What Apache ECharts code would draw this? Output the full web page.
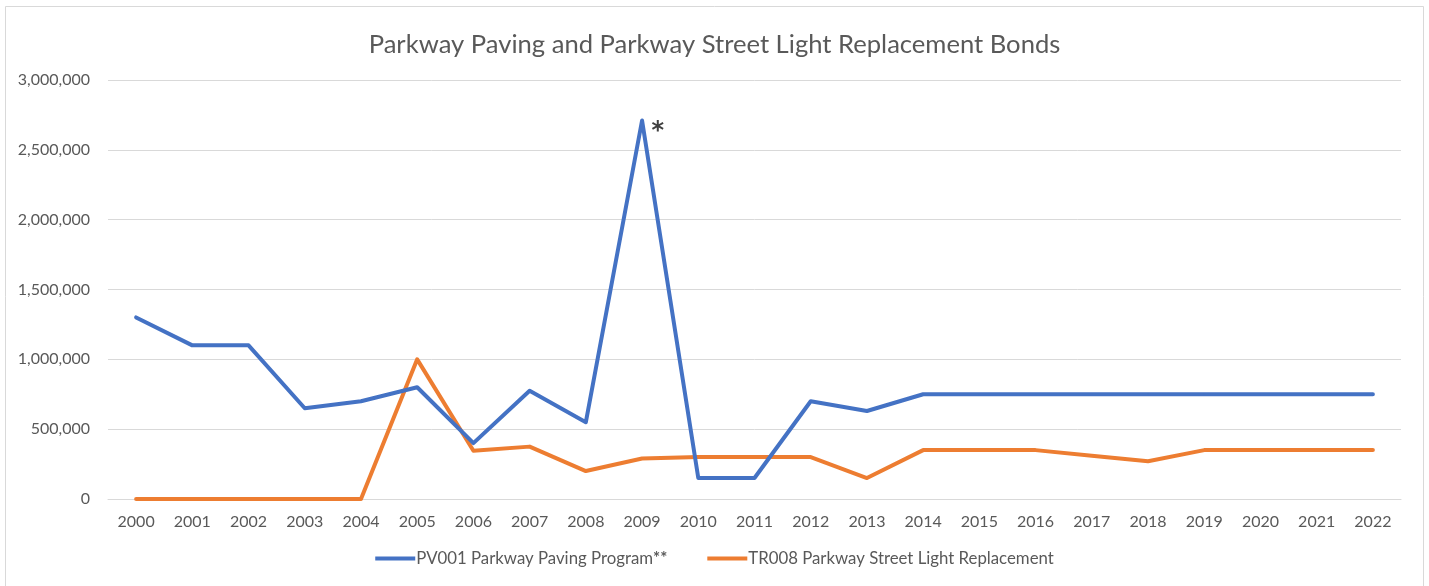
<!DOCTYPE html>
<html>
<head>
<meta charset="utf-8">
<script src="https://cdn.jsdelivr.net/npm/echarts@6/dist/echarts.min.js"></script>
<style>
html,body{margin:0;padding:0;background:#fff;}
#chart{width:1429px;height:586px;}
</style>
</head>
<body>
<div id="chart"></div>
<script>
const categories = ['2000','2001','2002','2003','2004','2005','2006','2007','2008','2009','2010','2011','2012','2013','2014','2015','2016','2017','2018','2019','2020','2021','2022'];
const paving = [1300000,1100000,1100000,650000,700000,800000,400000,775000,550000,2710000,150000,150000,700000,630000,750000,750000,750000,750000,750000,750000,750000,750000,750000];
const lights = [0,0,0,0,0,1000000,345000,375000,200000,290000,300000,300000,300000,150000,350000,350000,350000,310000,270000,350000,350000,350000,350000];
const seriesNames = ['PV001 Parkway Paving Program**','TR008 Parkway Street Light Replacement'];
const titleText = 'Parkway Paving and Parkway Street Light Replacement Bonds';
const peakNote = '*';
const peakIndex = 9;

const font = 'Lato, "Open Sans", sans-serif';
const chart = echarts.init(document.getElementById('chart'));
const pavingData = paving.map((v,i)=> i===peakIndex ? {value:v,label:{show:true,formatter:peakNote,position:'right',offset:[4,11],fontSize:24,fontWeight:'bold',color:'#404040',fontFamily:'"DejaVu Sans", sans-serif'}} : v);
chart.setOption({
  animation:false,
  backgroundColor:'#fff',
  graphic:[{type:'rect',shape:{x:5.5,y:6.5,width:1418,height:620},style:{fill:'none',stroke:'#d9d9d9',lineWidth:1},silent:true}],
  title:{text:titleText,left:'center',top:27,textStyle:{fontFamily:font,fontSize:25.6,fontWeight:'normal',color:'#595959'}},
  grid:{left:108,right:28,top:80,bottom:87,containLabel:false},
  legend:{bottom:14,left:'center',itemWidth:40,itemHeight:4,itemGap:40,icon:'rect',
    formatter:name=>{
      const m = name.match(/^(.*?)(\*+)$/);
      return m ? m[1] + '{b|' + m[2] + '}' : name;
    },
    textStyle:{fontFamily:font,fontSize:16.8,color:'#595959',padding:[0,0,0,-4],
      rich:{b:{fontFamily:font,fontSize:16.8,fontWeight:'bold',color:'#595959'}}},
    data:seriesNames},
  xAxis:{type:'category',data:categories,boundaryGap:true,
    axisLine:{lineStyle:{color:'#d9d9d9',width:1}},axisTick:{show:false},
    axisLabel:{fontFamily:font,fontSize:16,color:'#595959',margin:15}},
  yAxis:{type:'value',min:0,max:3000000,interval:500000,
    axisLine:{show:false},axisTick:{show:false},
    splitLine:{lineStyle:{color:'#d9d9d9',width:1}},
    axisLabel:{fontFamily:font,fontSize:16,color:'#595959',margin:18,
      formatter:v=>v.toLocaleString('en-US')}},
  series:[
    {name:seriesNames[0],type:'line',data:pavingData,symbol:'circle',symbolSize:1,showSymbol:true,lineStyle:{color:'#4472C4',width:4,cap:'round',join:'round'},itemStyle:{color:'#4472C4'},z:3},
    {name:seriesNames[1],type:'line',data:lights,symbol:'none',lineStyle:{color:'#ED7D31',width:4,cap:'round',join:'round'},itemStyle:{color:'#ED7D31'},z:2}
  ]
});
</script>
</body>
</html>
